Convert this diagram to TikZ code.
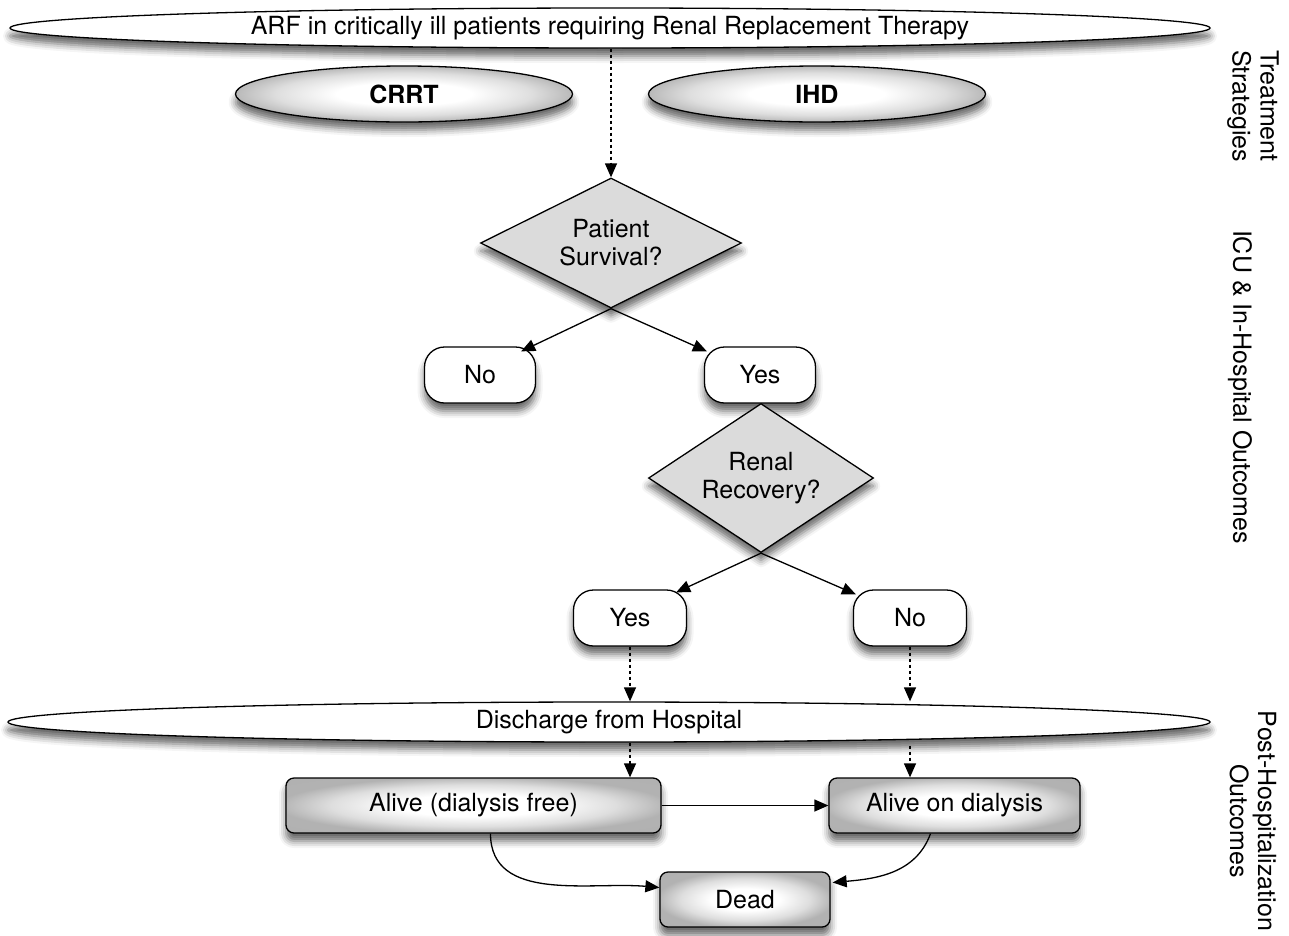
\documentclass[tikz,border=0pt]{standalone}
\usepackage{fontspec}
\setmainfont{TeX Gyre Heros}
\usetikzlibrary{shapes.geometric,arrows.meta,shadows,shadows.blur}
\pgfdeclareradialshading{glow}{\pgfpoint{0bp}{0bp}}{color(0bp)=(white); color(10bp)=(white); color(19bp)=(black!13); color(26bp)=(black!30); color(50bp)=(black!32)}
\begin{document}
\begin{tikzpicture}[x=1pt,y=1pt,
  font=\fontsize{25}{28}\selectfont,
  every node/.style={line width=1.3pt},
  sh/.style={blur shadow={shadow xshift=0pt,shadow yshift=-8pt,shadow blur radius=7pt,shadow opacity=60}},
  bigell/.style={ellipse,draw,fill=white,inner sep=0pt,minimum width=1200pt,minimum height=40pt,sh},
  treat/.style={ellipse,draw,inner sep=0pt,minimum width=337pt,minimum height=56pt,font=\fontsize{25}{28}\selectfont\bfseries,
    shading=glow,sh},
  decide/.style={diamond,aspect=1.6,draw,fill=black!14,inner sep=0pt,align=center,sh},
  answer/.style={rectangle,draw,fill=white,rounded corners=20pt,minimum width=111pt,minimum height=56pt,inner sep=0pt,sh},
  outcome/.style={rectangle,draw,rounded corners=8pt,minimum height=55pt,inner sep=0pt,
    shading=glow,sh},
  arr/.style={line width=1.3pt,-{Triangle[length=14pt,width=12pt]}},
  darr/.style={arr,dash pattern=on 3pt off 3pt},
  side/.style={rotate=-90,align=center}
]
\useasboundingbox (0,0) rectangle (1289,-935);

\node[bigell] (top) at (610,-28) {ARF in critically ill patients requiring Renal Replacement Therapy};
\node[treat] (crrt) at (404,-94) {CRRT};
\node[treat] (ihd) at (817,-94) {IHD};

\node[decide,minimum width=261pt,minimum height=130pt] (d1) at (611,-243) {Patient\\Survival?};
\node[answer] (no1) at (480,-375) {No};
\node[answer] (yes1) at (760,-375) {Yes};

\node[decide,minimum width=225pt,minimum height=149pt] (d2) at (761,-478) {Renal\\Recovery?};
\node[answer,minimum width=113pt] (yes2) at (630,-618) {Yes};
\node[answer,minimum width=113pt] (no2) at (910,-618) {No};

\node[bigell,minimum width=1202pt] (dis) at (609,-722) {Discharge from Hospital};

\node[outcome,minimum width=375pt] (free) at (473.5,-805.5) {Alive (dialysis free)};
\node[outcome,minimum width=251pt] (ondial) at (954.5,-805.5) {Alive on dialysis};
\node[outcome,minimum width=170pt] (dead) at (745,-899.5) {Dead};

\node[side] (lab1) at (1253,-106) {Treatment\\Strategies};
\node[side] (lab2) at (1240,-387) {ICU \& In-Hospital Outcomes};
\node[side] (lab3) at (1253,-821) {Post-Hospitalization\\Outcomes};

\draw[darr] (d1.north |- top.south) -- (d1.north);
\draw[arr] (d1.south) -- ([xshift=-15pt,yshift=-5pt]no1.north east);
\draw[arr] (d1.south) -- ([xshift=3pt,yshift=-5pt]yes1.north west);
\draw[arr] (d2.south) -- ([xshift=-11pt,yshift=-3pt]yes2.north east);
\draw[arr] (d2.south) -- ([xshift=3pt,yshift=-5pt]no2.north west);
\draw[darr] (yes2.south) -- (yes2.south |- dis.north);
\draw[darr] (no2.south) -- (no2.south |- dis.north);
\draw[darr] (yes2.south |- dis.south) -- (yes2.south |- free.north);
\draw[darr] ([yshift=-3pt]no2.south |- dis.south) -- (no2.south |- ondial.north);
\draw[arr] (free.east) -- (ondial.west);
\draw[arr] ([xshift=17pt]free.south) to[out=-90,in=175] ([yshift=12pt]dead.west);
\draw[arr] ([xshift=-24pt]ondial.south) to[out=-110,in=5] ([xshift=2pt,yshift=17pt]dead.east);
\end{tikzpicture}
\end{document}
